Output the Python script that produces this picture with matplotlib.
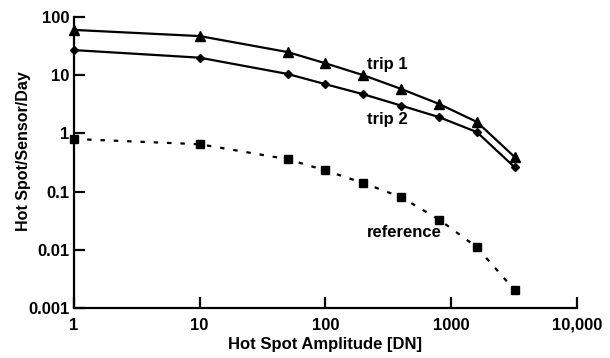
import matplotlib
matplotlib.use("Agg")
import matplotlib.pyplot as plt

plt.rcParams['font.family'] = ['Liberation Sans', 'DejaVu Sans']
plt.rcParams['font.weight'] = 'bold'

amplitude = [1, 10, 50, 100, 200, 400, 800, 1600, 3200]
trip1 = [60, 47, 25, 16, 10, 5.8, 3.2, 1.57, 0.39]
trip2 = [27, 20, 10.5, 7, 4.7, 3.0, 1.9, 1.05, 0.26]
reference = [0.8, 0.65, 0.36, 0.23, 0.14, 0.08, 0.033, 0.011, 0.002]

xticks = [1, 10, 100, 1000, 10000]
xticklabels = ["1", "10", "100", "1000", "10,000"]
yticks = [0.001, 0.01, 0.1, 1, 10, 100]
yticklabels = ["0.001", "0.01", "0.1", "1", "10", "100"]

fig = plt.figure(figsize=(6.1, 3.58), dpi=100)
ax = fig.add_axes([0.121, 0.140, 0.825, 0.8125])

ax.plot(amplitude, trip1, color='black', lw=1.6, marker='^', ms=6.5, clip_on=False)
ax.plot(amplitude, trip2, color='black', lw=1.6, marker='D', ms=4.5, clip_on=False)
ax.plot(amplitude, reference, color='black', lw=1.6, ls=(0, (2, 4)), marker='s', ms=5.5, clip_on=False)

ax.set_xscale('log')
ax.set_yscale('log')
ax.set_xlim(1, 10000)
ax.set_ylim(0.001, 100)
ax.set_xticks(xticks)
ax.set_xticklabels(xticklabels)
ax.set_yticks(yticks)
ax.set_yticklabels(yticklabels)
ax.minorticks_off()

for s in ['top', 'right']:
    ax.spines[s].set_visible(False)
for s in ['left', 'bottom']:
    ax.spines[s].set_linewidth(1.6)
ax.tick_params(direction='in', length=8, width=1.6, labelsize=12)
ax.tick_params(axis='x', pad=7)
ax.tick_params(axis='y', pad=3)

ax.text(214, 15, "trip 1", fontsize=12, fontweight='bold', ha='left', va='center')
ax.text(214, 1.7, "trip 2", fontsize=12, fontweight='bold', ha='left', va='center')
ax.text(214, 0.02, "reference", fontsize=12, fontweight='bold', ha='left', va='center')

ax.set_xlabel("Hot Spot Amplitude [DN]", fontsize=12, fontweight='bold', labelpad=3)
ax.set_ylabel("Hot Spot/Sensor/Day", fontsize=11.5, fontweight='bold')
ax.yaxis.set_label_coords(-0.085, 0.54)

fig.savefig("out.png", dpi=100)
